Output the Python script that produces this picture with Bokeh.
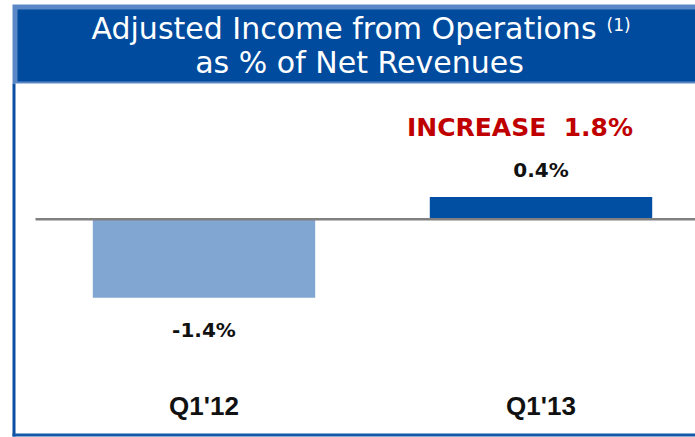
from bokeh.plotting import figure
from bokeh.models import Range1d, ColumnDataSource
from bokeh.core.properties import value
from bokeh.embed import file_html
from bokeh.resources import INLINE

# ---- data ----
categories = ["Q1'12", "Q1'13"]
values = [-1.4, 0.4]
value_labels = ["-1.4%", "0.4%"]
title_line1 = "Adjusted Income from Operations"
title_note = "(1)"
title_line2 = "as % of Net Revenues"
change = values[1] - values[0]
change_label = "INCREASE \u00a0%.1f%%" % change

# ---- style / layout ----
bar_colors = ["#82A6D2", "#004FA3"]
W, H = 695, 437
PX = 56.0      # pixels per percentage point
BASE = 218.8   # baseline, pixels from top
X0 = 203.5     # centre of first category, pixels from left
STEP = 337.0   # pixels between categories
BAR_W = 0.66

p = figure(width=W, height=H, output_backend="svg", toolbar_location=None,
           x_range=Range1d(-X0 / STEP, (W - X0) / STEP),
           y_range=Range1d(-(H - BASE) / PX, BASE / PX),
           x_axis_location=None, y_axis_location=None, min_border=0)
p.extra_x_ranges = {"px": Range1d(0, W)}
p.extra_y_ranges = {"px": Range1d(H, 0)}
p.grid.visible = False
p.outline_line_color = None
p.background_fill_color = "white"
p.border_fill_color = "white"

# header box
p.quad(left=[12], right=[W], top=[4], bottom=[83], fill_color="#5A87C5",
       line_color=None, x_range_name="px", y_range_name="px")
p.quad(left=[17], right=[W], top=[9], bottom=[81], fill_color="#004B9E",
       line_color=None, x_range_name="px", y_range_name="px")
# panel borders
p.quad(left=[12], right=[15], top=[83], bottom=[436], fill_color="#0B4FA2",
       line_color=None, x_range_name="px", y_range_name="px")
p.quad(left=[12], right=[W], top=[433], bottom=[436], fill_color="#1556A8",
       line_color=None, x_range_name="px", y_range_name="px")

title_font = value("DejaVu Sans")
p.text(x=[343.5], y=[27.5], text=[title_line1], text_font=title_font,
       text_font_size="30px", text_color="white", text_align="center",
       text_baseline="alphabetic", x_range_name="px", y_range_name="px")
p.text(x=[606], y=[24.5], text=[title_note], text_font=title_font,
       text_font_size="17px", text_color="white", text_align="left",
       text_baseline="alphabetic", x_range_name="px", y_range_name="px")
p.text(x=[359], y=[62], text=[title_line2], text_font=title_font,
       text_font_size="30px", text_color="white", text_align="center",
       text_baseline="alphabetic", x_range_name="px", y_range_name="px")

# bars
idx = list(range(len(categories)))
src = ColumnDataSource(dict(x=idx, top=values, color=bar_colors,
                            label=value_labels,
                            off=[32.5 if v < 0 else -26.5 for v in values]))
p.vbar(x="x", top="top", bottom=0, width=BAR_W, fill_color="color",
       line_color=None, source=src)

# baseline
p.segment(x0=[35], x1=[W], y0=[0], y1=[0], line_color="#808080",
          line_width=2.4, x_range_name="px")

# value labels
p.text(x="x", y="top", text="label", y_offset="off", source=src,
       text_font=value("DejaVu Sans"), text_font_style="bold",
       text_font_size="20px", text_color="#111111", text_align="center",
       text_baseline="alphabetic")

# change label
p.text(x=[idx[1]], y=[values[1]], text=[change_label], x_offset=-21,
       y_offset=-69.5, text_font=value("DejaVu Sans"), text_font_style="bold",
       text_font_size="25px", text_color="#C00000", text_align="center",
       text_baseline="alphabetic")

# category labels
p.text(x=idx, y=[405.5] * len(idx), text=categories, y_range_name="px",
       text_font=value("Liberation Sans"), text_font_style="bold",
       text_font_size="26px", text_color="#111111", text_align="center",
       text_baseline="alphabetic")

open("out.html", "w").write(file_html(p, INLINE))
